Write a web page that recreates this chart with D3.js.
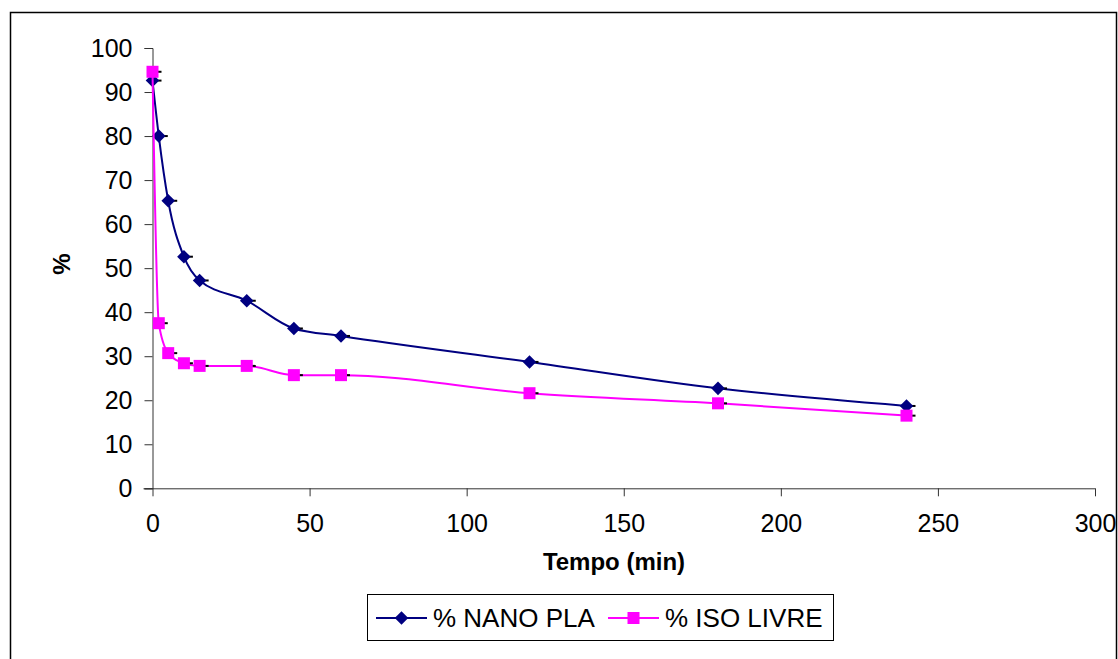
<!DOCTYPE html>
<html>
<head>
<meta charset="utf-8">
<script src="https://cdn.jsdelivr.net/npm/d3@7"></script>
<style>
  html, body { margin: 0; padding: 0; background: #fff; }
  svg { display: block; font-family: "Liberation Sans", Arial, sans-serif; }
</style>
</head>
<body>
<svg id="chart" width="1118" height="659"></svg>
<script>
// Release profile: time in minutes and remaining percentage for each formulation
const tempo = [0, 2, 5, 10, 15, 30, 45, 60, 120, 180, 240];
const nanoPla = [92.6, 80.0, 65.3, 52.6, 47.2, 42.6, 36.3, 34.6, 28.7, 22.7, 18.7];
const isoLivre = [94.6, 37.5, 30.7, 28.4, 27.8, 27.8, 25.7, 25.7, 21.6, 19.3, 16.5];
const seriesNames = ["% NANO PLA", "% ISO LIVRE"];
const xTicks = [0, 50, 100, 150, 200, 250, 300];
const yTicks = [0, 10, 20, 30, 40, 50, 60, 70, 80, 90, 100];

const svg = d3.select("#chart");

// Outer chart frame
svg.append("rect")
  .attr("x", 10.5).attr("y", 12.5)
  .attr("width", 1106).attr("height", 660)
  .attr("fill", "#fff").attr("stroke", "#000").attr("stroke-width", 1.5);

const x = d3.scaleLinear().domain([0, 300]).range([152.5, 1095]);
const y = d3.scaleLinear().domain([0, 100]).range([488.3, 48]);

const axisColor = "#333";

// Y axis
const yAxis = svg.append("g")
  .attr("transform", `translate(${x(0)},0)`)
  .call(d3.axisLeft(y).tickValues(yTicks).tickSize(8).tickPadding(12).tickFormat(d3.format("d")));
yAxis.select(".domain").attr("stroke", axisColor);
yAxis.selectAll(".tick line").attr("stroke", axisColor);
yAxis.selectAll(".tick text")
  .attr("fill", "#000").style("font-size", "25px");

// X axis (line reaches left to meet the y tick row)
const xAxis = svg.append("g")
  .attr("transform", `translate(0,${y(0)})`)
  .call(d3.axisBottom(x).tickValues(xTicks).tickSize(8).tickSizeOuter(0).tickPadding(18));
xAxis.select(".domain").remove();
xAxis.append("line")
  .attr("x1", x(0) - 9).attr("x2", x(300))
  .attr("y1", 0.5).attr("y2", 0.5)
  .attr("stroke", axisColor);
xAxis.selectAll(".tick line").attr("stroke", axisColor);
xAxis.selectAll(".tick text")
  .attr("fill", "#000").style("font-size", "25px");

// Axis titles
svg.append("text")
  .attr("x", 614).attr("y", 570)
  .attr("text-anchor", "middle")
  .style("font-size", "24px").style("font-weight", "bold")
  .text("Tempo (min)");

svg.append("text")
  .attr("transform", "translate(70,264) rotate(-90)")
  .attr("text-anchor", "middle")
  .style("font-size", "24px").style("font-weight", "bold")
  .text("%");

// Smoothed line without overshoot between equal neighbouring values
const line = d3.line()
  .x(d => x(d[0]))
  .y(d => y(d[1]))
  .curve(d3.curveMonotoneX);

const diamond = d3.symbol().type(d3.symbolSquare).size(92);
const squareSym = d3.symbol().type(d3.symbolSquare).size(144);

function drawSeries(values, color, kind) {
  const pts = tempo.map((t, i) => [t, values[i]]);
  const g = svg.append("g");
  g.append("path")
    .attr("d", line(pts))
    .attr("fill", "none")
    .attr("stroke", color)
    .attr("stroke-width", 2);
  // short black ticks on the right of each point
  g.selectAll("line.tick-mark").data(pts).enter().append("line")
    .attr("x1", d => x(d[0])).attr("x2", d => x(d[0]) + 9)
    .attr("y1", d => y(d[1])).attr("y2", d => y(d[1]))
    .attr("stroke", "#000").attr("stroke-width", 2);
  g.selectAll("path.marker").data(pts).enter().append("path")
    .attr("class", "marker")
    .attr("d", kind === "diamond" ? diamond() : squareSym())
    .attr("transform", d => `translate(${x(d[0])},${y(d[1])})` + (kind === "diamond" ? " rotate(45)" : ""))
    .attr("fill", color);
}

drawSeries(nanoPla, "#000080", "diamond");
drawSeries(isoLivre, "#FF00FF", "square");

// Legend
const legend = svg.append("g");
legend.append("rect")
  .attr("x", 367.5).attr("y", 594.5)
  .attr("width", 466).attr("height", 46)
  .attr("fill", "#fff").attr("stroke", "#000").attr("stroke-width", 1);

const legendItems = [
  { name: seriesNames[0], color: "#000080", kind: "diamond", x0: 376, x1: 427, tx: 433 },
  { name: seriesNames[1], color: "#FF00FF", kind: "square", x0: 608, x1: 659, tx: 665 }
];
legendItems.forEach(it => {
  const ly = 618;
  legend.append("line")
    .attr("x1", it.x0).attr("x2", it.x1)
    .attr("y1", ly).attr("y2", ly)
    .attr("stroke", it.color).attr("stroke-width", 2);
  legend.append("path")
    .attr("d", it.kind === "diamond" ? diamond() : squareSym())
    .attr("transform", `translate(${(it.x0 + it.x1) / 2},${ly})` + (it.kind === "diamond" ? " rotate(45)" : ""))
    .attr("fill", it.color);
  legend.append("text")
    .attr("x", it.tx).attr("y", 627)
    .style("font-size", "26px")
    .text(it.name);
});
</script>
</body>
</html>
